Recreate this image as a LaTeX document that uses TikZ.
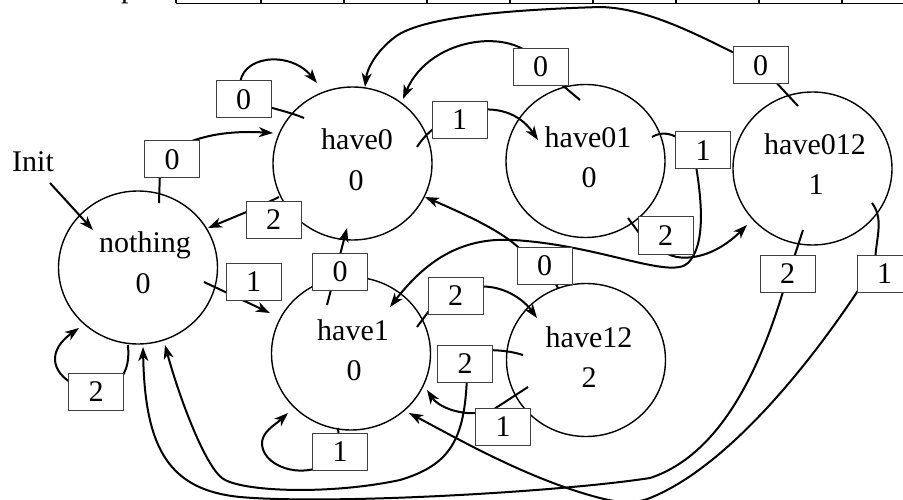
\documentclass[tikz,border=0pt]{standalone}
\usepackage{fontspec}
\setmainfont{Liberation Serif}
\usetikzlibrary{arrows.meta,shapes.geometric}
\pgfdeclarelayer{bg}
\pgfsetlayers{bg,main}
\tikzset{
  state/.style={draw, ellipse, line width=1.4pt, minimum width=159pt, minimum height=153pt, inner sep=0pt},
  stxt/.style={anchor=base, inner sep=0pt, font=\fontsize{30}{36}\selectfont},
  lab/.style={draw=black!75, fill=white, line width=1pt, minimum width=55pt, minimum height=37pt, inner sep=0pt, font=\fontsize{30}{36}\selectfont},
  edge/.style={line width=2pt},
  arr/.style={edge, -{Stealth[length=14pt,width=10pt,inset=4pt]}},
  tbl/.style={line width=1.8pt}
}
\begin{document}
\begin{tikzpicture}[x=1pt,y=-1pt]
\useasboundingbox (0,0) rectangle (903,500);
\clip (0,0) rectangle (903,500);

% cropped table at the top
\draw[tbl] (176,3.5) -- (910,3.5);
\foreach \xx in {176,261,344,427,510,593,676,759,842} \draw[tbl] (\xx,-5) -- (\xx,3.5);
\node[anchor=base west, inner sep=0pt, font=\fontsize{30}{36}\selectfont] (ptxt) at (121,-2.5) {p};

% states
\node[state] (nothing) at (138,267.5) {};
\node[state] (have0) at (352.5,163.5) {};
\node[state] (have01) at (585.5,161) {};
\node[state] (have012) at (812.5,168.5) {};
\node[state] (have1) at (351,353.5) {};
\node[state] (have12) at (586,360) {};

\node[stxt] (nothing-n) at (145,252) {nothing};
\node[stxt] (nothing-o) at (143,293) {0};
\node[stxt] (have0-n) at (357,150) {have0};
\node[stxt] (have0-o) at (356,190) {0};
\node[stxt] (have01-n) at (588,148) {have01};
\node[stxt] (have01-o) at (589,188) {0};
\node[stxt] (have012-n) at (815,155) {have012};
\node[stxt] (have012-o) at (816,195) {1};
\node[stxt] (have1-n) at (353,340) {have1};
\node[stxt] (have1-o) at (354,380) {0};
\node[stxt] (have12-n) at (589,347) {have12};
\node[stxt] (have12-o) at (589,387) {2};

\node[anchor=base west, inner sep=0pt, font=\fontsize{30}{36}\selectfont] (init) at (12,172) {Init};
\coordinate (initA) at (50,183);
\coordinate (initB) at (93,230);

% label boxes
\node[lab] (b1) at (243.5,99.5) {0};
\node[lab] (b2) at (172,159.5) {0};
\node[lab] (b3) at (273.5,220) {2};
\node[lab] (b4) at (253.5,281.5) {1};
\node[lab] (b5) at (96,392) {2};
\node[lab] (b6) at (340,272) {0};
\node[lab] (b7) at (459.5,120) {1};
\node[lab] (b8) at (540.5,67) {0};
\node[lab] (b9) at (760.5,65.5) {0};
\node[lab] (b10) at (703,150.5) {1};
\node[lab] (b11) at (665.5,235.5) {2};
\node[lab] (b12) at (455.5,296) {2};
\node[lab] (b13) at (544.5,265.5) {0};
\node[lab] (b14) at (465,364) {2};
\node[lab] (b15) at (503,427) {1};
\node[lab] (b16) at (340,452) {1};
\node[lab] (b17) at (787.5,273.5) {2};
\node[lab] (b18) at (884.5,273.5) {1};

\begin{pgfonlayer}{bg}
% Init
\draw[arr] (initA) -- (initB);
% have0 --0--> have0
\draw[edge] (304,118) .. controls (290,112) and (270,108) .. (b1.center);
\draw[arr] (240,88) .. controls (238,55) and (290,50) .. (317,83);
% nothing --0--> have0
\draw[edge] (159,203) -- (160,170);
\draw[arr] (170,152) .. controls (200,132) and (240,131) .. (273,133);
% have0 --2--> nothing
\draw[arr] (279,197) -- (256,208) -- (208,228);
% nothing --1--> have1
\draw[arr] (204,282) -- (270,313);
% nothing --2--> nothing
\draw[edge] (128,345) .. controls (129,360) and (128,370) .. (118,382);
\draw[arr] (75,385) .. controls (50,372) and (48,350) .. (79,328);
% have1 --0--> have0
\draw[arr] (327,305) -- (347,228);
% have0 --1--> have01
\draw[arr] (417,147) .. controls (440,110) and (505,92) .. (538,140);
% have01 --0--> have0
\draw[edge] (580,100) -- (b8.center);
\draw[arr] (b8.center) .. controls (520,25) and (430,35) .. (403,99);
% have012 --0--> have0
\draw[edge] (798,106) -- (b9.center);
\draw[arr] (b9.center) .. controls (715,45) and (655,8) .. (600,7) .. controls (500,10) and (420,18) .. (395,37) .. controls (375,52) and (367,70) .. (365,87);
% have01 --1--> have1
\draw[edge] (652,137) .. controls (662,131) and (672,133) .. (685,142);
\draw[arr] (695,160) .. controls (702,200) and (706,245) .. (688,263) .. controls (670,280) and (600,245) .. (513,240) .. controls (460,237) and (425,262) .. (390,307);
% have01 --2--> have012
\draw[edge] (628,218) -- (645,241);
\draw[arr] (658,245) .. controls (670,265) and (710,262) .. (747,225);
% have1 --2--> have12
\draw[edge] (417,327) -- (440,296);
\draw[arr] (470,288) .. controls (495,282) and (520,295) .. (537,318);
% have12 --0--> have0
\draw[edge] (558,288) -- (548,270);
\draw[arr] (530,260) .. controls (515,240) and (490,225) .. (425,197);
% have12 --2--> nothing
\draw[edge] (523,355) .. controls (510,351) and (500,350) .. (480,350);
\draw[arr] (467,375) .. controls (465,440) and (450,465) .. (400,480) .. controls (330,495) and (240,492) .. (222,478) .. controls (205,465) and (180,400) .. (165,345);
% have12 --1--> have1
\draw[edge] (528,387) -- (485,415);
\draw[arr] (480,413) .. controls (455,415) and (437,405) .. (427,390);
% have1 --1--> have1
\draw[edge] (338,428) -- (b16.center);
\draw[arr] (330,460) .. controls (310,480) and (265,470) .. (262,445) .. controls (261,432) and (275,425) .. (288,413);
% have012 --2--> nothing
\draw[edge] (803,230) -- (790,270);
\draw[arr] (785,285) .. controls (760,370) and (720,455) .. (650,478) .. controls (560,492) and (330,505) .. (240,497) .. controls (170,490) and (145,450) .. (143,347);
% have012 --1--> have1
\draw[edge] (872,203) .. controls (885,220) and (875,240) .. (875,265);
\draw[arr] (865,280) .. controls (800,380) and (720,470) .. (650,498) .. controls (635,504) and (620,503) .. (600,498) .. controls (530,480) and (460,440) .. (409,413);
\end{pgfonlayer}
\end{tikzpicture}
\end{document}
